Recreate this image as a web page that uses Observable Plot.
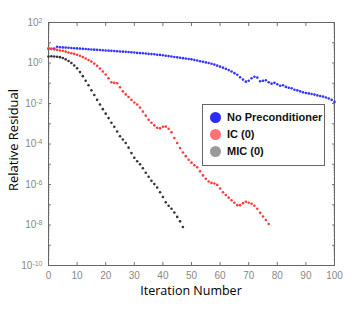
<!DOCTYPE html>
<html><head><meta charset="utf-8">
<script src="https://cdn.jsdelivr.net/npm/d3@7"></script>
<script src="https://cdn.jsdelivr.net/npm/@observablehq/plot@0.6"></script>
<style>
body{margin:0;background:#fff;}
#chart{position:relative;width:355px;height:323px;}
.legend{position:absolute;left:202px;top:104px;width:121px;height:60px;border:1.5px solid #666;background:#fff;font-family:"Liberation Sans",Arial,sans-serif;font-size:11px;font-weight:bold;color:#111;}
.legend .row{position:absolute;left:7px;height:14px;display:flex;align-items:center;}
.legend .sw{width:11px;height:11px;border-radius:50%;margin-right:6px;}
</style>
</head><body><div id="chart"></div>
<script>
// log10 of relative residual, one value per iteration (index = iteration number)
const noPrecond = [0.70,0.70,0.71,0.80,0.78,0.77,0.76,0.75,0.74,0.73,0.72,0.71,0.70,0.69,0.68,0.67,0.66,0.65,0.64,0.63,0.62,0.61,0.60,0.59,0.58,0.57,0.56,0.55,0.54,0.53,0.52,0.50,0.49,0.48,0.47,0.45,0.44,0.43,0.41,0.40,0.38,0.36,0.34,0.32,0.30,0.28,0.26,0.24,0.22,0.20,0.18,0.15,0.12,0.09,0.06,0.03,0.00,-0.04,-0.08,-0.13,-0.18,-0.23,-0.29,-0.35,-0.42,-0.50,-0.58,-0.70,-0.82,-0.92,-0.88,-0.75,-0.68,-0.72,-0.90,-0.88,-0.85,-0.95,-1.02,-0.98,-1.05,-1.12,-1.10,-1.18,-1.22,-1.25,-1.32,-1.35,-1.40,-1.45,-1.48,-1.50,-1.53,-1.56,-1.60,-1.63,-1.66,-1.70,-1.75,-1.82,-1.92];
const ic0 = [0.72,0.70,0.67,0.65,0.62,0.60,0.56,0.52,0.48,0.45,0.41,0.36,0.30,0.22,0.15,0.07,-0.03,-0.14,-0.27,-0.42,-0.57,-0.75,-0.95,-0.98,-1.00,-1.20,-1.40,-1.55,-1.68,-1.82,-1.95,-2.05,-2.20,-2.40,-2.60,-2.80,-2.95,-3.08,-3.20,-3.22,-3.15,-3.14,-3.25,-3.42,-3.70,-3.95,-4.20,-4.42,-4.60,-4.78,-4.92,-5.05,-5.15,-5.35,-5.55,-5.72,-5.85,-5.92,-5.95,-6.02,-6.20,-6.38,-6.52,-6.65,-6.78,-6.90,-7.02,-7.02,-6.92,-6.85,-6.90,-6.95,-7.05,-7.20,-7.40,-7.58,-7.75,-7.95];
const mic0 = [0.32,0.33,0.32,0.31,0.29,0.25,0.18,0.10,0.00,-0.12,-0.26,-0.45,-0.65,-0.88,-1.10,-1.35,-1.58,-1.82,-2.05,-2.28,-2.50,-2.72,-2.95,-3.15,-3.38,-3.62,-3.78,-3.95,-4.18,-4.45,-4.68,-4.85,-5.00,-5.20,-5.42,-5.62,-5.82,-5.98,-6.15,-6.38,-6.62,-6.88,-7.05,-7.20,-7.38,-7.60,-7.82,-8.10];
const seriesNames = ["No Preconditioner","IC (0)","MIC (0)"];
const dotColors = ["#3535ff","#ff3b3b","#333333"];
const legendColors = ["#2b2bff","#ff7272","#9a9a9a"];
const xTicks = [0,10,20,30,40,50,60,70,80,90,100];
const yTickExps = [2,0,-2,-4,-6,-8,-10];

const rows = [];
[noPrecond, ic0, mic0].forEach((arr, s) => arr.forEach((v, i) => rows.push({series: s, iter: i, val: 10 ** v})));
const decades = d3.range(-10, 3).map(e => 10 ** e);
const minor = [];
for (let e = -10; e < 2; e++) for (let k = 2; k <= 9; k++) minor.push(k * 10 ** e);

const plot = Plot.plot({
  width: 355, height: 323,
  marginLeft: 48, marginRight: 21, marginTop: 22, marginBottom: 58,
  style: {fontFamily: "'Liberation Sans', Arial, sans-serif", fontSize: "10px", color: "#888", background: "#fff"},
  x: {domain: [0, 100]},
  y: {type: "log", domain: [1e-10, 1e2]},
  marks: [
    Plot.axisX({anchor: "bottom", ticks: xTicks, tickSize: -3, tickPadding: 9, tickFormat: d => String(d), label: null, stroke: "#777", fill: "#888"}),
    Plot.axisX({anchor: "top", ticks: xTicks, tickSize: -3, tickFormat: () => "", label: null, stroke: "#777"}),
    Plot.axisY({anchor: "left", ticks: decades, tickSize: -3, tickPadding: 9, tickFormat: d => (yTickExps.includes(Math.round(Math.log10(d))) ? "10^" + Math.round(Math.log10(d)) : ""), label: null, stroke: "#777", fill: "#888"}),
    Plot.axisY({anchor: "right", ticks: decades, tickSize: -3, tickFormat: () => "", label: null, stroke: "#777"}),
    Plot.axisY({anchor: "left", ticks: minor, tickSize: -1.5, tickFormat: () => "", label: null, stroke: "#999"}),
    Plot.axisY({anchor: "right", ticks: minor, tickSize: -1.5, tickFormat: () => "", label: null, stroke: "#999"}),
    Plot.frame({stroke: "#666", strokeWidth: 1}),
    Plot.dot(rows, {x: "iter", y: "val", r: 1.3, fill: d => dotColors[d.series], stroke: "none"})
  ]
});

const svg = d3.select(plot);
// superscript formatting of y tick labels
svg.selectAll("g[aria-label='y-axis tick label'] text").each(function() {
  const t = d3.select(this);
  const s = t.text();
  if (!s.includes("^")) return;
  const [b, e] = s.split("^");
  t.text(null);
  t.append("tspan").text(b);
  t.append("tspan").attr("dy", "-0.45em").attr("font-size", "7px").text(e);
});
svg.append("text").attr("x", 191).attr("y", 295).attr("text-anchor", "middle")
  .attr("font-family", "'Open Sans', sans-serif").attr("font-size", "12.5px").attr("fill", "#000").text("Iteration Number");
svg.append("text").attr("transform", "translate(18,140) rotate(-90)").attr("text-anchor", "middle")
  .attr("font-family", "'Open Sans', sans-serif").attr("font-size", "13px").attr("fill", "#000").text("Relative Residual");

const chart = document.getElementById("chart");
chart.appendChild(plot);
const lg = document.createElement("div");
lg.className = "legend";
seriesNames.forEach((n, i) => {
  const r = document.createElement("div");
  r.className = "row";
  r.style.top = (5 + i * 17) + "px";
  const sw = document.createElement("span");
  sw.className = "sw";
  sw.style.background = legendColors[i];
  r.appendChild(sw);
  r.appendChild(document.createTextNode(n));
  lg.appendChild(r);
});
chart.appendChild(lg);
</script>
</body></html>
